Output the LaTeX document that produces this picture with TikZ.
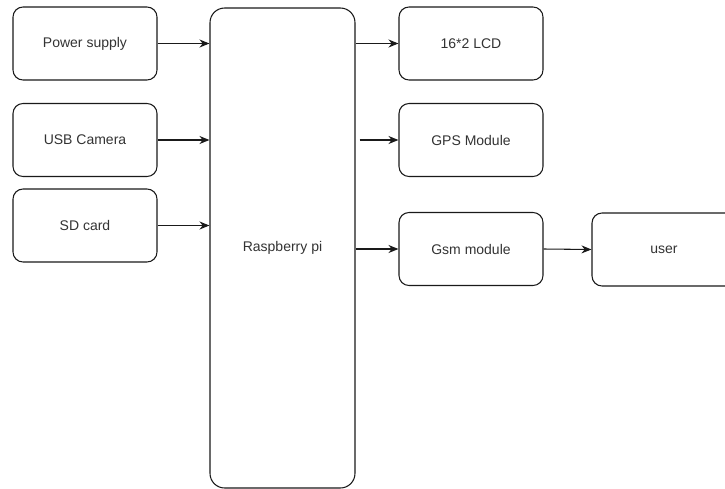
\documentclass[tikz,border=0pt]{standalone}
\usepackage{fontspec}
\setmainfont{Liberation Sans}
\usepackage{tikz}
\usepackage{xcolor}
\usetikzlibrary{arrows.meta}
\definecolor{ink}{HTML}{1A1A1A}
\definecolor{txtgray}{HTML}{333333}
\tikzset{
  blockbox/.style={draw=ink,fill=white,line width=0.8pt,rounded corners=7.5pt,
                   minimum width=108pt,minimum height=54.75pt,
                   align=center,text=txtgray,font=\fontsize{10.5}{12}\selectfont,inner sep=3pt},
  corebox/.style={blockbox,rounded corners=11pt,
                  minimum width=108.75pt,minimum height=360pt},
  flowarr/.style={-{Stealth[length=7.5pt,width=6pt]},line width=0.8pt,color=ink}
}

\begin{document}
\begin{tikzpicture}[x=0.75pt,y=-0.75pt]
  \useasboundingbox (0,0) rectangle (725,489);
  \clip (0,0) rectangle (725,489);
  % inputs
  \node[blockbox] (power) at (85,43.5) {Power supply};
  \node[blockbox] (camera) at (85,140) {USB Camera};
  \node[blockbox] (sdcard) at (85,225.5) {SD card};
  % controller
  \node[corebox] (rpi) at (282.5,248) {Raspberry pi};
  % outputs
  \node[blockbox] (lcd) at (471,43.5) {16*2 LCD};
  \node[blockbox] (gps) at (471,140) {GPS Module};
  \node[blockbox] (gsm) at (471,249) {Gsm module};
  \node[blockbox] (user) at (664,249.5) {user};
  % links
  \draw[flowarr] (power.east) -- (power.east -| rpi.west);
  \draw[flowarr] (camera.east) -- (camera.east -| rpi.west);
  \draw[flowarr] (sdcard.east) -- (sdcard.east -| rpi.west);
  \draw[flowarr] (lcd.west -| rpi.east) -- (lcd.west);
  \draw[flowarr,shorten <=3pt] (gps.west -| rpi.east) -- (gps.west);
  \draw[flowarr] (gsm.west -| rpi.east) -- (gsm.west);
  \draw[flowarr] (gsm.east) -- (user.west);
\end{tikzpicture}
\end{document}
